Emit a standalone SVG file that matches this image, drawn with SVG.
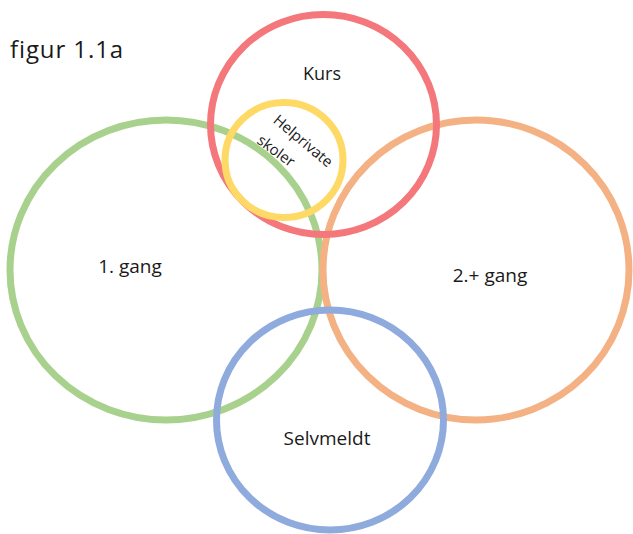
<svg xmlns="http://www.w3.org/2000/svg" width="633" height="534" viewBox="0 0 633 534">
  <style>
    .ring { fill: none; stroke-width: 7; }
    .lbl { font-family: "Open Sans", "Noto Sans", "Liberation Sans", sans-serif; fill: #1a1a1a; }
  </style>
  <rect width="633" height="534" fill="#ffffff"/>

  <text class="lbl" x="10" y="58" font-size="24" letter-spacing="0.9">figur 1.1a</text>

  <g id="forstegang">
    <ellipse class="ring" cx="166" cy="270" rx="156" ry="150" stroke="#A9D18E"/>
    <text class="lbl" x="130" y="273" font-size="19" text-anchor="middle">1. gang</text>
  </g>

  <g id="flergang">
    <ellipse class="ring" cx="476" cy="270" rx="153" ry="150" stroke="#F4B183"/>
    <text class="lbl" x="490" y="282" font-size="19" text-anchor="middle">2.+ gang</text>
  </g>

  <g id="kurs">
    <ellipse class="ring" cx="323.5" cy="124.5" rx="113" ry="110" stroke="#F4777B"/>
    <text class="lbl" x="322" y="80" font-size="18" text-anchor="middle">Kurs</text>
  </g>

  <g id="helprivate">
    <ellipse class="ring" cx="284" cy="160" rx="59" ry="57.5" stroke="#FFD966" stroke-width="6.5"/>
    <text class="lbl" font-size="15" text-anchor="middle" transform="translate(303 141) rotate(40)" y="5">Helprivate</text>
    <text class="lbl" font-size="15" text-anchor="middle" transform="translate(276 151) rotate(36)" y="5">skoler</text>
  </g>

  <g id="selvmeldt">
    <ellipse class="ring" cx="330" cy="420" rx="113.5" ry="110" stroke="#8FAADC"/>
    <text class="lbl" x="327" y="445" font-size="19" text-anchor="middle">Selvmeldt</text>
  </g>

  <g id="connectors"/>
</svg>
